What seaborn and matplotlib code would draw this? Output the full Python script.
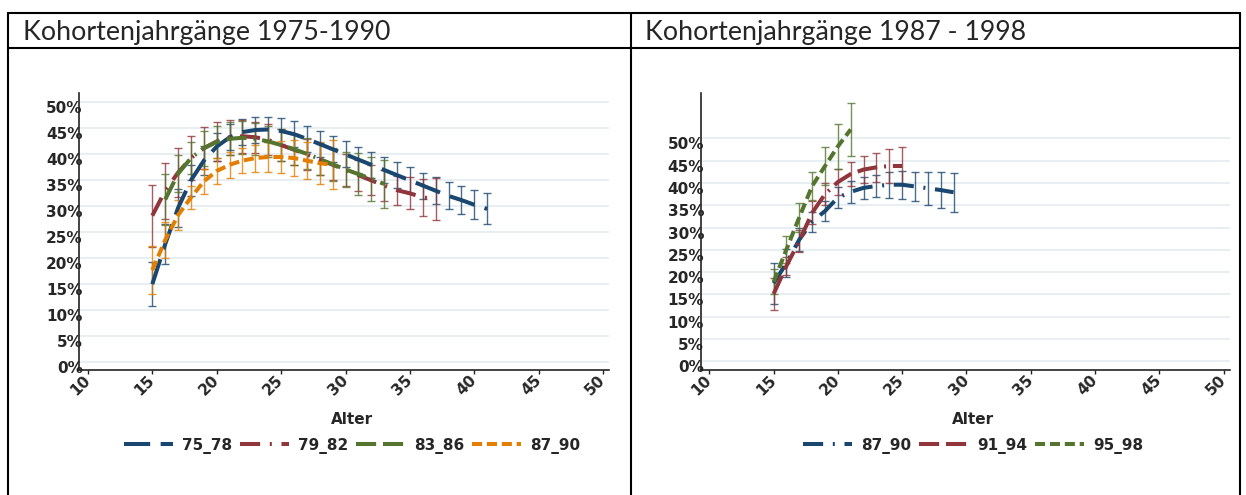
import matplotlib
matplotlib.use("Agg")
import matplotlib.pyplot as plt
import matplotlib.transforms as mtransforms
from matplotlib.lines import Line2D
from matplotlib.font_manager import FontProperties
import pandas as pd
import seaborn as sns

# ---------------- data (share in percent, half-width of the confidence band) ----------------
ages_75_78 = list(range(15, 42))
share_75_78 = [15.0, 22.7, 29.7, 35.0, 38.8, 41.5, 43.3, 44.3, 44.7, 44.8, 44.5, 43.9, 43.0, 42.0,
               41.0, 40.0, 39.0, 38.0, 37.0, 36.0, 35.0, 34.0, 33.0, 32.0, 31.2, 30.3, 29.5]
ci_75_78 = [4.2, 3.9, 3.6, 3.0, 2.8, 2.7, 2.5, 2.5, 2.5, 2.5, 2.5, 2.5, 2.5, 2.5,
            2.5, 2.5, 2.5, 2.5, 2.5, 2.5, 2.5, 2.5, 2.6, 2.6, 2.7, 2.8, 3.0]

ages_79_82 = list(range(15, 38))
share_79_82 = [28.2, 33.0, 36.5, 39.3, 41.2, 42.5, 43.3, 43.5, 43.3, 42.8, 41.8, 40.9, 40.0, 39.0,
               38.0, 37.0, 36.0, 35.0, 34.0, 33.1, 32.5, 31.7, 31.4]
ci_79_82 = [6.0, 5.4, 4.8, 4.2, 4.0, 3.8, 3.4, 3.2, 3.0, 3.0, 3.0, 3.0, 3.0, 3.0,
            3.0, 3.1, 3.0, 2.9, 2.9, 2.8, 3.1, 3.5, 4.0]

ages_83_86 = list(range(16, 34))
share_83_86 = [31.3, 36.3, 39.3, 41.2, 42.4, 43.0, 43.2, 43.0, 42.5, 41.8, 41.0, 40.1, 39.1, 38.1,
               37.1, 36.2, 35.3, 34.3]
ci_83_86 = [4.9, 3.5, 3.0, 3.4, 3.0, 3.2, 3.2, 3.1, 3.0, 3.0, 3.0, 3.0, 3.1, 3.2,
            3.4, 4.0, 4.2, 4.6]

ages_87_90 = list(range(15, 30))
share_87_90 = [17.7, 23.5, 28.3, 31.7, 34.8, 36.8, 38.0, 38.8, 39.3, 39.5, 39.5, 39.3, 38.8, 38.3, 38.0]
ci_87_90 = [4.6, 3.5, 2.9, 2.2, 2.4, 2.5, 2.5, 2.4, 2.6, 2.8, 3.0, 3.4, 3.6, 4.0, 4.7]

ages_87_90b = list(range(15, 30))
share_87_90b = [17.5, 22.0, 27.3, 31.3, 33.7, 36.7, 38.0, 38.9, 39.3, 39.6, 39.6, 39.2, 38.8, 38.4, 37.9]
ci_87_90b = [4.6, 3.2, 2.5, 2.2, 2.2, 2.4, 2.5, 2.4, 2.5, 2.9, 3.1, 3.2, 3.75, 3.95, 4.35]

ages_91_94 = list(range(15, 26))
share_91_94 = [15.1, 21.4, 27.0, 33.3, 37.5, 40.2, 42.0, 43.0, 43.5, 43.8, 43.8]
ci_91_94 = [3.5, 2.0, 2.5, 2.6, 2.5, 2.9, 2.8, 3.0, 3.2, 3.8, 4.3]

ages_95_98 = list(range(15, 22))
share_95_98 = [17.8, 25.1, 32.3, 39.3, 43.8, 48.2, 52.0]
ci_95_98 = [2.8, 3.0, 3.3, 3.1, 4.3, 5.1, 6.0]

x_ticks = list(range(10, 51, 5))
y_ticks = list(range(0, 51, 5))
titles = ["Kohortenjahrgänge 1975-1990", "Kohortenjahrgänge 1987 - 1998"]
x_title = "Alter"


def frame(label, ages, share, ci):
    return pd.DataFrame({"Alter": ages, "Anteil": share, "KI": ci, "Kohorte": label})


left_df = pd.concat([frame("75_78", ages_75_78, share_75_78, ci_75_78),
                     frame("79_82", ages_79_82, share_79_82, ci_79_82),
                     frame("83_86", ages_83_86, share_83_86, ci_83_86),
                     frame("87_90", ages_87_90, share_87_90, ci_87_90)], ignore_index=True)
right_df = pd.concat([frame("87_90", ages_87_90b, share_87_90b, ci_87_90b),
                      frame("91_94", ages_91_94, share_91_94, ci_91_94),
                      frame("95_98", ages_95_98, share_95_98, ci_95_98)], ignore_index=True)

# ---------------- style ----------------
sns.set_style("white")
plt.rcParams["font.family"] = ["DejaVu Sans"]

NAVY, MAROON, FOREST, ORANGE = "#1a476f", "#90353b", "#55752f", "#e37e00"
LONGDASH = (6.5, 2.6)
DASHDOT = (5.0, 2.4, 0.5, 2.4)
DASHDASHDOT = (5.0, 1.7, 5.0, 1.7, 0.5, 1.7)
SHORTDASH = (2.5, 1.2)
LW = 2.9

W, H = 1246, 495
fig = plt.figure(figsize=(W / 100, H / 100), dpi=100)
fig.patch.set_facecolor("white")


def px_axes(l, t, r, b):
    return fig.add_axes([l / W, 1 - b / H, (r - l) / W, (b - t) / H])


bold = FontProperties(family=["DejaVu Sans"], weight="bold", size=11)


def draw_panel(ax, df, colors, patterns, ylim):
    order = list(dict.fromkeys(df["Kohorte"]))
    palette = dict(zip(order, colors))
    dashes = dict(zip(order, patterns))

    ax.set_xlim(9.33, 50.46)
    ax.set_ylim(*ylim)
    ax.yaxis.grid(True, color="#e6eef1", lw=1.3, zorder=0)
    ax.xaxis.grid(False)

    for k in order:
        sub = df[df["Kohorte"] == k]
        ax.errorbar(sub["Alter"], sub["Anteil"], yerr=sub["KI"], fmt="none",
                    ecolor=palette[k], elinewidth=1.0, capsize=3, capthick=1.0,
                    alpha=0.8, zorder=2)

    sns.lineplot(data=df, x="Alter", y="Anteil", hue="Kohorte", style="Kohorte",
                 hue_order=order, style_order=order, palette=palette, dashes=dashes,
                 linewidth=LW, estimator=None, errorbar=None, ax=ax, zorder=3)

    leg = ax.get_legend()
    handles = list(leg.legend_handles)
    labels = [t.get_text() for t in leg.get_texts()]
    leg.remove()
    for h in handles:
        h.set_linewidth(LW)
    ax.legend(handles, labels, ncol=len(order), loc="upper center",
              bbox_to_anchor=(0.515, -0.222), borderaxespad=0, frameon=False,
              handlelength=3.2, handletextpad=0.6, columnspacing=0.5, prop=bold)

    for side in ("top", "right"):
        ax.spines[side].set_visible(False)
    for side in ("left", "bottom"):
        ax.spines[side].set_color("#222222")
        ax.spines[side].set_linewidth(1.2)

    ax.set_xticks(x_ticks)
    ax.set_xticklabels([str(v) for v in x_ticks], rotation=45, ha="right", va="center",
                       rotation_mode="anchor", fontproperties=bold)
    ax.tick_params(axis="x", length=3, width=1, color="#222222", pad=2.7, bottom=True)
    ax.set_yticks(y_ticks)
    ax.set_yticklabels([f"{v}%" for v in y_ticks], fontproperties=bold)
    ax.tick_params(axis="y", length=0, pad=-2.5, left=True)
    shift = mtransforms.ScaledTranslation(0, -0.05, fig.dpi_scale_trans)
    for tick in ax.yaxis.get_major_ticks():
        tick.label1.set_transform(tick.label1.get_transform() + shift)

    ax.set_xlabel(x_title, fontproperties=bold)
    ax.xaxis.set_label_coords(0.515, -0.15)
    ax.set_ylabel("")


ax_l = px_axes(79.3, 93, 609, 370)
draw_panel(ax_l, left_df, [NAVY, MAROON, FOREST, ORANGE],
           [LONGDASH, DASHDOT, DASHDASHDOT, SHORTDASH], (-1.54, 51.83))
ax_r = px_axes(700.7, 93.3, 1229.5, 370)
draw_panel(ax_r, right_df, [NAVY, MAROON, FOREST],
           [DASHDOT, DASHDASHDOT, SHORTDASH], (-1.95, 60.1))

# ---------------- surrounding table ----------------
def fig_line(xs, ys, lw=1.5):
    fig.add_artist(Line2D([x / W for x in xs], [1 - y / H for y in ys],
                          color="black", lw=lw, transform=fig.transFigure))


fig_line([8, 1240], [13, 13])
fig_line([8, 1240], [48, 48])
for xv in (8, 631, 1240):
    fig_line([xv, xv], [13, 495])

head_font = ["Lato", "DejaVu Sans"]
t1 = fig.text(23 / W, 1 - 40 / H, titles[0], fontsize=20, family=head_font, va="baseline")
t2 = fig.text(645 / W, 1 - 40 / H, titles[1], fontsize=20, family=head_font, va="baseline")
fig.canvas.draw()
renderer = fig.canvas.get_renderer()
width = t1.get_window_extent(renderer).width
size = 20 * 367 / width
t1.set_fontsize(size)
t2.set_fontsize(size)

fig.savefig("out.png", dpi=100, facecolor="white")
